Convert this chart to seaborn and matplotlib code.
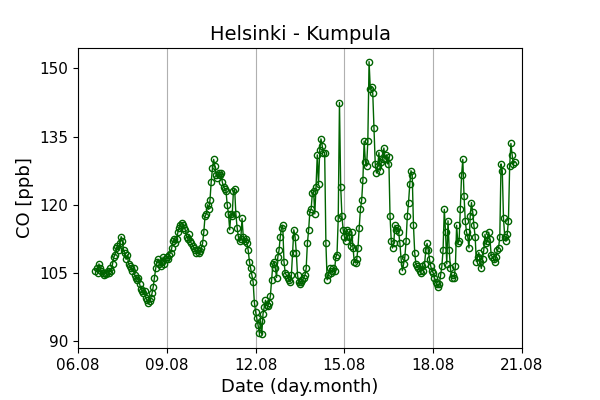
import pandas as pd
import numpy as np
import matplotlib
matplotlib.use("Agg")
import matplotlib.pyplot as plt
import matplotlib.dates as mdates
import seaborn as sns

# hourly CO values, one list per day
d06 = [105.5, 106, 105, 107, 106, 105.5, 105, 104.5, 105, 104.8]
d07 = [105.5, 105, 106, 105.5, 107, 108.5, 109, 110.5, 111, 110, 111.5, 113,
       112, 110, 109.5, 108, 109, 107, 106.5, 106, 105.5, 106, 104.5, 104]
d08 = [103.5, 104, 102.5, 101.5, 101, 100.5, 101, 99.5, 99, 98.5, 98.8, 99.5,
       100.5, 102, 104, 106, 107.5, 108, 107, 106.5, 107.5, 108.5, 107, 108]
d09 = [108.5, 108, 109, 109.5, 110.5, 112, 112.5, 111.5, 112.5, 114, 115, 115.5,
       116, 115.5, 115, 114.5, 113, 112.5, 113.5, 112, 111.5, 111, 110.5, 110]
d10 = [109.5, 110, 109.5, 109.8, 110.5, 111.5, 114, 117.5, 118, 120, 119, 121,
       125, 128, 130, 128.5, 126.5, 126, 127, 126.5, 127, 125, 124, 123.5]
d11 = [123, 120, 118, 114.5, 118, 117.5, 123, 123.5, 118, 115, 113, 112,
       112.5, 117, 113, 112, 112.5, 111.5, 110, 107.5, 106, 104.5, 103, 98.5]
d12 = [96.5, 95, 93.5, 91.8, 94.5, 91.5, 96, 97.5, 99, 98, 97.8, 98.5,
       100, 103.5, 107, 107.5, 106, 104, 108.5, 110, 113, 115, 115.5, 107.5]
d13 = [105, 104.5, 104, 103.5, 103, 104.5, 109.5, 114.5, 113, 109.5, 104.5, 103,
       102.5, 103, 103.5, 104, 104.5, 106, 111.5, 114.5, 118.5, 119, 122.5, 123]
d14 = [118, 124, 131, 124.5, 132, 134.5, 133, 131.5, 131.5, 111.5, 103.5, 104.5,
       106, 105, 105.5, 106, 105.5, 108.5, 109, 117, 142.5, 124, 117.5, 114.5]
d15 = [113, 112, 114.5, 114, 113, 111, 114, 110.5, 107.5, 107.2, 108, 110.5,
       115, 119, 121, 125.5, 134, 129.5, 128.5, 134, 151.5, 145.5, 146, 144.5]
d16 = [137, 129, 127, 128.5, 131.5, 127.5, 129.5, 130, 132.5, 130, 131, 129,
       130.5, 117.5, 112, 110.5, 111.5, 115.5, 114.5, 115, 114, 111.5, 108, 105.5]
d17 = [107, 108.5, 112, 117.5, 120.5, 124.5, 127.5, 126.5, 115.5, 109.5, 107, 106.5,
       106, 105.5, 105, 106.5, 105.5, 107, 110, 111.5, 110, 108, 106.5, 105.5]
d18 = [105, 104, 103, 102.5, 102, 102.5, 104.5, 106.5, 110, 119, 114, 107,
       116.5, 110, 106, 104, 104.5, 104, 106.5, 115.5, 111.5, 112, 119, 126.5]
d19 = [130, 122, 116.5, 114, 113, 110.5, 117.5, 120.5, 118.5, 115.5, 113, 107.5,
       108.5, 109.5, 107.5, 106, 108, 110, 113.5, 111.5, 112, 114, 112.5, 109]
d20 = [108.5, 108, 107.5, 108.5, 110, 110.5, 113, 129, 127.5, 117, 113, 112,
       113.5, 116.5, 128.5, 133.5, 131, 129, 129.5]

co = d06 + d07 + d08 + d09 + d10 + d11 + d12 + d13 + d14 + d15 + d16 + d17 + d18 + d19 + d20
times = pd.date_range("2019-08-06 14:00", periods=len(co), freq="h")
df = pd.DataFrame({"time": times, "CO": co})

tick_days = pd.date_range("2019-08-06", "2019-08-21", freq="3D")

fig, ax = plt.subplots(figsize=(6, 4), dpi=100)
sns.lineplot(data=df, x="time", y="CO", ax=ax, color="darkgreen", linewidth=1,
             marker="o", markersize=4.5, markerfacecolor="none",
             markeredgecolor="darkgreen", markeredgewidth=1)

ax.set_xlim(tick_days[0], tick_days[-1])
ax.set_xticks(tick_days)
ax.xaxis.set_major_formatter(mdates.DateFormatter("%d.%m"))
ax.set_yticks([90, 105, 120, 135, 150])
ax.tick_params(labelsize=11)
ax.grid(True, axis="x")
ax.set_title("Helsinki - Kumpula", fontsize=14)
ax.set_xlabel("Date (day.month)", fontsize=13)
ax.set_ylabel("CO [ppb]", fontsize=13)

plt.subplots_adjust(left=0.13, right=0.87, bottom=0.13, top=0.88)
plt.savefig("out.png", dpi=100)
